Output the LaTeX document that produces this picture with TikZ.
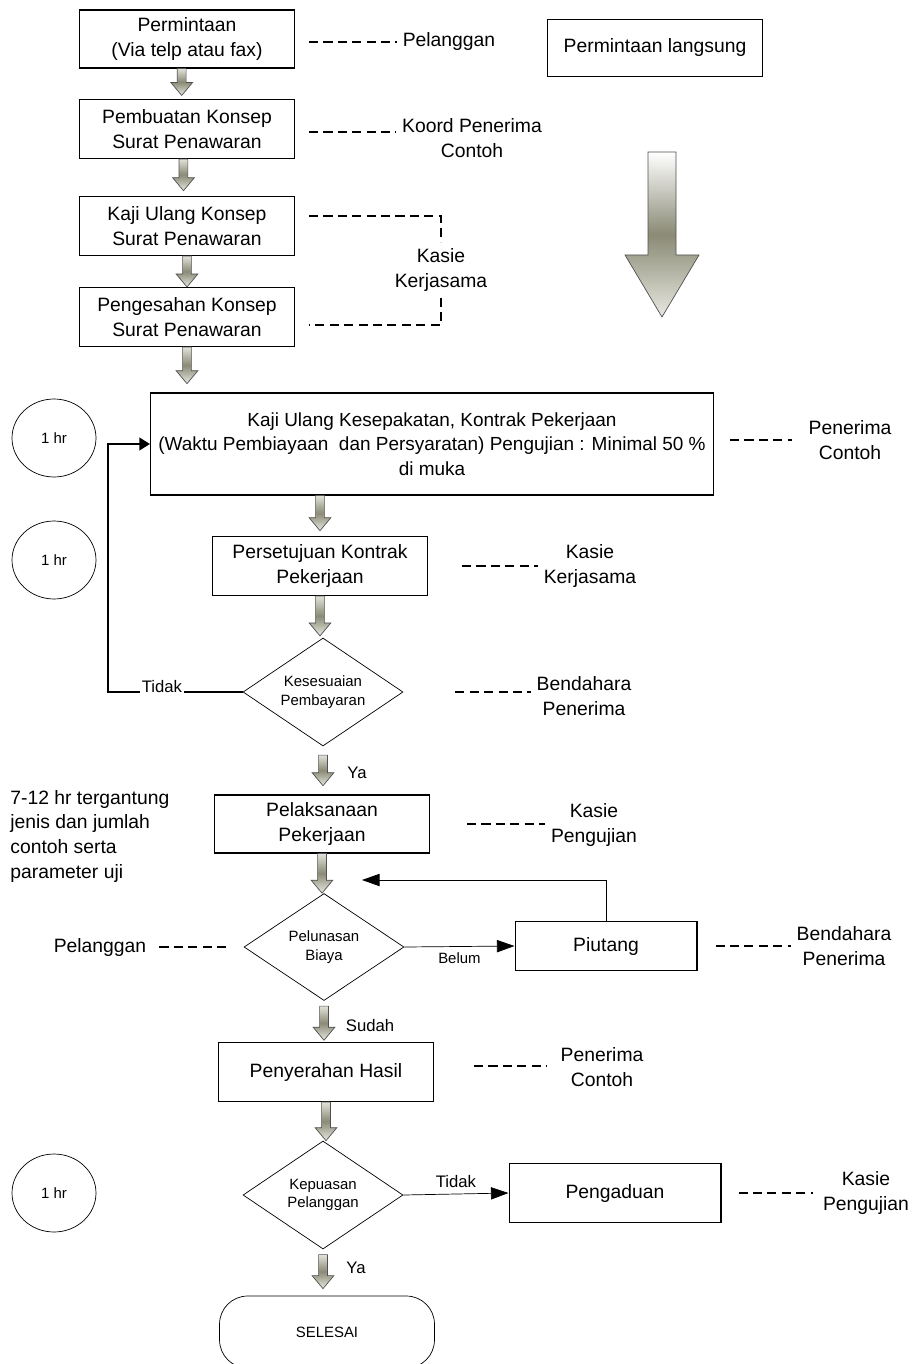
\documentclass[tikz,border=0pt]{standalone}
\usepackage{fontspec}
\setmainfont{Liberation Sans}
\usetikzlibrary{shapes.geometric,arrows.meta,calc}

\definecolor{arrowtop}{HTML}{E2E2DA}
\definecolor{arrowmid}{HTML}{8A8A76}
\definecolor{arrowbot}{HTML}{E8E8E0}
\definecolor{arrowline}{HTML}{505050}

\tikzset{
  box/.style={draw, semithick, align=center, minimum width=4.3cm, minimum height=1.18cm, inner sep=2pt},
  diam/.style={diamond, draw, thin, aspect=1.5, minimum width=3.2cm, minimum height=2.16cm, inner sep=1pt, align=center, small},
  hrnode/.style={ellipse, draw, thin, minimum width=1.68cm, minimum height=1.56cm, small},
  endnode/.style={draw, thin, rounded corners=16pt, minimum width=4.3cm, minimum height=1.44cm, small},
  who/.style={align=center},
  small/.style={font=\fontsize{8.5}{10.5}\selectfont},
  lbl/.style={font=\fontsize{9.5}{11}\selectfont},
  dashline/.style={line width=0.7pt, dash pattern=on 5.2pt off 3pt},
  loopline/.style={line width=1.4pt, -{Triangle[length=6pt,width=7pt]}},
  retline/.style={thin, -{Triangle[length=10pt,width=7pt]}},
  flowshade/.style={draw=arrowline, thin, top color=arrowtop, bottom color=arrowbot, middle color=arrowmid}
}

% panah blok kecil antar langkah
\newcommand{\flowarrow}[2]{%
  \path[flowshade] let \p1=(#1), \p2=(#2) in
    (\x1-2.5pt,\y1) -- (\x1+2.5pt,\y1) -- (\x1+2.5pt,\y2+7.4pt) -- (\x1+6.2pt,\y2+7.4pt)
    -- (\x1,\y2) -- (\x1-6.2pt,\y2+7.4pt) -- (\x1-2.5pt,\y2+7.4pt) -- cycle;}

\begin{document}
\begin{tikzpicture}[x=0.02cm, y=-0.02cm, font=\fontsize{11}{14}\selectfont]
\useasboundingbox (0,0) rectangle (912,1364);

% penawaran
\node[box, minimum height=1.16cm] (perm) at (187,39) {Permintaan\\(Via telp atau fax)};
\node[box, minimum height=1.14cm] (langsung) at (655,48) {Permintaan langsung};
\node[box] (konsep) at (187,129) {Pembuatan Konsep\\Surat Penawaran};
\node[box] (kaji) at (187,226) {Kaji Ulang Konsep\\Surat Penawaran};
\node[box] (sah) at (187,317) {Pengesahan Konsep\\Surat Penawaran};

\node[who] (pel1) at (449,42) {Pelanggan};
\node[who] (koord) at (472,138) {Koord Penerima\\Contoh};
\node[who] (kasie1) at (441,270) {Kasie\\Kerjasama};

\draw[dashline] ($(perm.east |- pel1.west)+(14,0)$) -- (pel1.west);
\draw[dashline] ($(konsep.east)+(14,3)$) -- ($(koord.west |- konsep.east)+(0,3)$);
\draw[dashline] ($(kaji.east)+(14,-10)$) -| (kasie1.north);
\draw[dashline] (kasie1.south) |- ($(sah.east)+(14,8)$);

% panah besar
\path[draw=arrowline, thin, top color=white, bottom color=arrowbot, middle color=arrowmid]
  (648,152) -- (676,152) -- (676,255) -- (699,255) -- (662,317) -- (625,255) -- (648,255) -- cycle;

% kontrak
\node[box, minimum width=11.26cm, minimum height=2.04cm, font=\fontsize{10.8}{14}\selectfont] (big) at (432,444)
  {Kaji Ulang Kesepakatan, Kontrak Pekerjaan\\(Waktu Pembiayaan\ \ dan Persyaratan) Pengujian : Minimal 50 \%\\di muka};
\node[hrnode] (hr1) at (54,438) {1 hr};
\node[hrnode] (hr2) at (54,560) {1 hr};
\node[hrnode] (hr3) at (54,1193) {1 hr};

\node[box] (setuju) at (320,566) {Persetujuan Kontrak\\Pekerjaan};
\node[diam] (cocok) at (323,692) {Kesesuaian\\Pembayaran};
\node[box, minimum height=1.16cm] (laksana) at (322,824) {Pelaksanaan\\Pekerjaan};
\node[diam, minimum height=2.14cm] (lunas) at (324,947) {Pelunasan\\Biaya};
\node[box, minimum width=3.64cm, minimum height=0.98cm] (piutang) at (606,946) {Piutang};
\node[box] (serah) at (326,1072) {Penyerahan Hasil};
\node[diam] (puas) at (323,1195) {Kepuasan\\Pelanggan};
\node[box, minimum width=4.24cm] (aduan) at (615,1193) {Pengaduan};
\node[endnode] (selesai) at (327,1332) {SELESAI};

\node[who] (pen1) at (850,440) {Penerima\\Contoh};
\node[who] (kasie2) at (590,566) {Kasie\\Kerjasama};
\node[who] (benda1) at (584,696) {Bendahara\\Penerima};
\node[who] (kasie3) at (594,825) {Kasie\\Pengujian};
\node[who] (pel2) at (100,947) {Pelanggan};
\node[who] (benda2) at (844,946) {Bendahara\\Penerima};
\node[who] (pen2) at (602,1067) {Penerima\\Contoh};
\node[who] (kasie4) at (866,1193) {Kasie\\Pengujian};
\node[align=left, anchor=north west, inner sep=0pt] (durasi) at (10,790)
  {7-12 hr tergantung\\jenis dan jumlah\\contoh serta\\parameter uji};

\node[lbl] (ya1) at (357,773) {Ya};
\node[lbl] (sudah) at (370,1026) {Sudah};
\node[lbl] (ya2) at (356,1268) {Ya};

\draw[dashline] ($(big.east)+(16,-4)$) -- ($(pen1.west |- big.east)+(-10,-4)$);
\draw[dashline] ($(setuju.east)+(34,0)$) -- (setuju.east -| kasie2.west);
\draw[dashline] ($(cocok.east)+(52,0)$) -- (cocok.east -| benda1.west);
\draw[dashline] ($(laksana.east)+(37,0)$) -- (laksana.east -| kasie3.west);
\draw[dashline] ($(pel2.east)+(7,0)$) -- ($(lunas.west)+(-14,0)$);
\draw[dashline] ($(piutang.east)+(18,0)$) -- (piutang.east -| benda2.west);
\draw[dashline] ($(serah.east)+(40,-6)$) -- ($(serah.east -| pen2.west)+(-7,-6)$);
\draw[dashline] ($(aduan.east)+(17,0)$) -- ($(kasie4.west)+(-4,0)$);

% panah alur
\flowarrow{[xshift=-3pt]perm.south}{[yshift=2pt]konsep.north}
\flowarrow{[xshift=-2pt]konsep.south}{[yshift=3pt]kaji.north}
\flowarrow{kaji.south}{sah.north}
\flowarrow{sah.south}{[yshift=5pt]big.north}
\flowarrow{big.south -| setuju.south}{[yshift=3pt]setuju.north}
\flowarrow{setuju.south}{[yshift=1pt]cocok.north}
\flowarrow{[yshift=-5pt]cocok.south}{[yshift=5pt]laksana.north}
\flowarrow{laksana.south}{lunas.north}
\flowarrow{[yshift=-3pt]lunas.south}{[yshift=1pt]serah.north}
\flowarrow{serah.south}{puas.north}
\flowarrow{[yshift=-3pt]puas.south}{[yshift=4pt]selesai.north}

\coordinate (kiri) at (108,692);
\draw[loopline] (cocok.west) -- node[pos=0.6, fill=white, inner sep=1pt, yshift=3pt, lbl] {Tidak} (kiri) |- (big.west);
\coordinate (balik) at (362,880);
\draw[retline] (piutang.north) |- (balik);
\draw[retline] (lunas.east) -- node[below, small] {Belum} (piutang.west);
\draw[retline] (puas.east) -- node[above, lbl] {Tidak} (aduan.west);
\end{tikzpicture}
\end{document}
